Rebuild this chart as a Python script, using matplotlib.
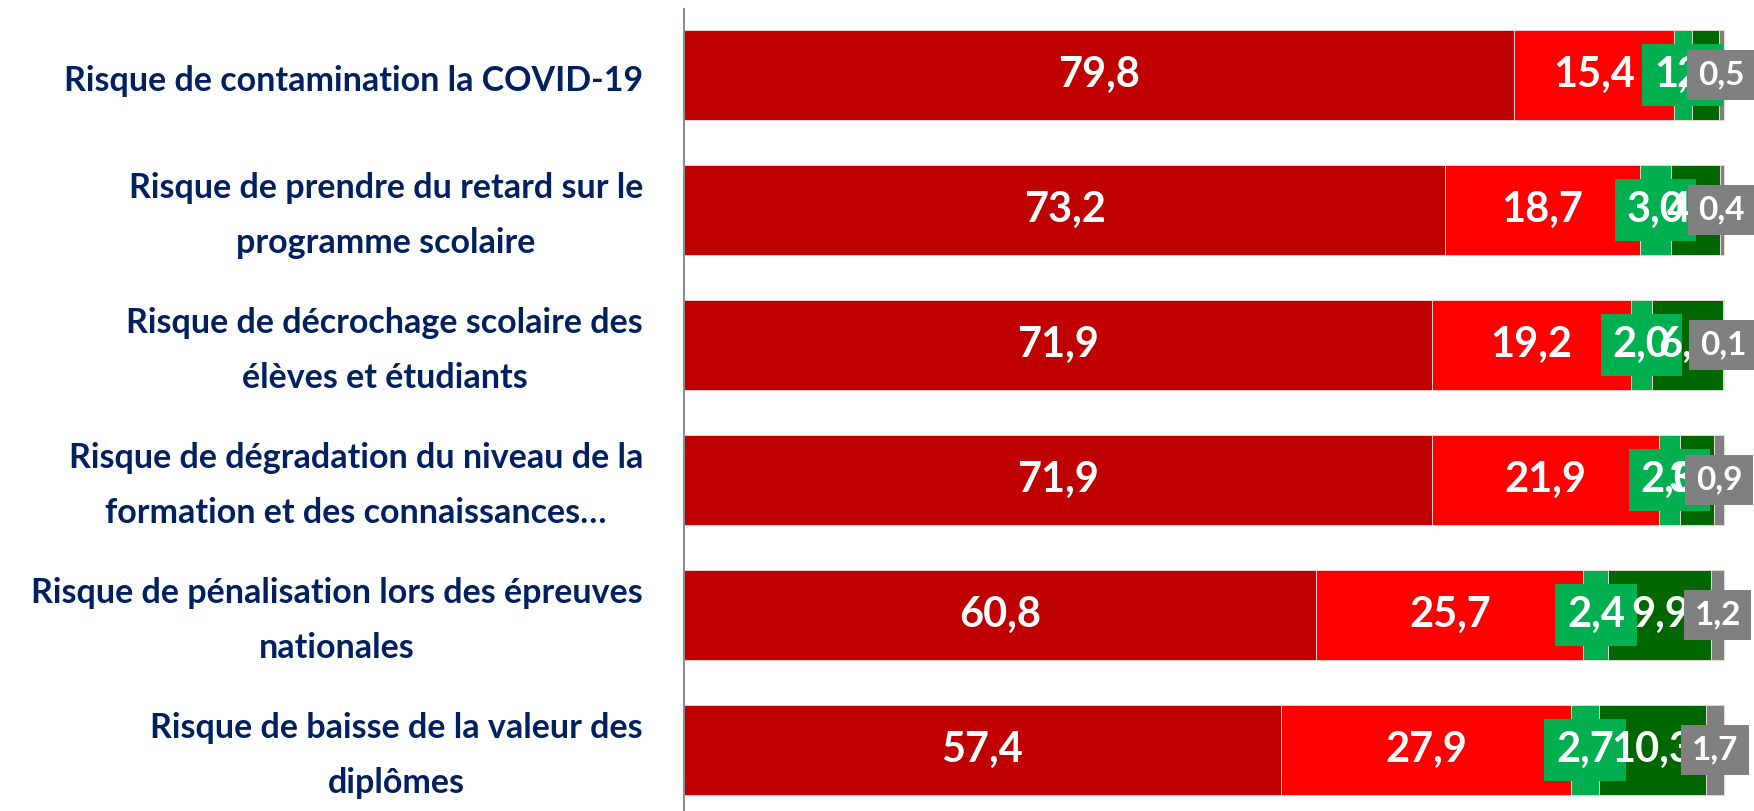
import numpy as np
import matplotlib
matplotlib.use("Agg")
import matplotlib.pyplot as plt
import matplotlib.transforms as mtransforms

plt.rcParams['font.family'] = ['Lato', 'DejaVu Sans']

# categories (top to bottom)
categories = [
    "Risque de contamination la COVID-19",
    "Risque de prendre du retard sur le\nprogramme scolaire",
    "Risque de décrochage scolaire des\nélèves et étudiants",
    "Risque de dégradation du niveau de la\nformation et des connaissances…",
    "Risque de pénalisation lors des épreuves\nnationales",
    "Risque de baisse de la valeur des\ndiplômes",
]

# series values (%)
tres_eleve = [79.8, 73.2, 71.9, 71.9, 60.8, 57.4]
eleve = [15.4, 18.7, 19.2, 21.9, 25.7, 27.9]
faible = [1.7, 3.0, 2.0, 2.0, 2.4, 2.7]
tres_faible = [2.6, 4.7, 6.8, 3.3, 9.9, 10.3]
nsp = [0.5, 0.4, 0.1, 0.9, 1.2, 1.7]

series = [tres_eleve, eleve, faible, tres_faible, nsp]
colors = ["#C00000", "#FF0000", "#00B050", "#006600", "#808080"]

fig = plt.figure(figsize=(17.54, 8.11), dpi=100)
ax = fig.add_axes([684 / 1754, 0, 1070 / 1754, 802 / 811])

y = np.arange(len(categories))
left = np.zeros(len(categories))

for k, (vals, col) in enumerate(zip(series, colors)):
    vals = np.array(vals)
    ax.barh(y, vals, left=left, height=0.667, color=col,
            edgecolor="#f2dcdc", linewidth=0.6, zorder=2)
    for i in range(len(y)):
        xc = left[i] + vals[i] / 2
        txt = f"{vals[i]:.1f}".replace(".", ",")
        if k == 2:
            # small green segment: label sits in a green box
            ax.text(xc, y[i], txt, ha="center", va="center", color="white",
                    fontsize=30, fontweight="bold", zorder=5 + k,
                    bbox=dict(boxstyle="square,pad=0.28", fc=col, ec="none"))
        elif k == 4:
            ax.text(xc, y[i], txt, ha="center", va="center", color="white",
                    fontsize=24, fontweight="bold", zorder=5 + k, clip_on=False,
                    bbox=dict(boxstyle="square,pad=0.32", fc=col, ec="none"))
        else:
            ax.text(xc, y[i], txt, ha="center", va="center", color="white",
                    fontsize=30, fontweight="bold", zorder=5 + k)
    left += vals

ax.set_xlim(0, 102.9)
ax.set_ylim(5.452, -0.489)
ax.set_xticks([])
ax.set_yticks(y)
ax.set_yticklabels([])
ax.tick_params(axis="y", length=0)

# category labels, right-aligned left of the axis
trans = mtransforms.blended_transform_factory(ax.transAxes, ax.transData)
shift = mtransforms.ScaledTranslation(-41 / 100, -4 / 72, fig.dpi_scale_trans)
for yi, lab in zip(y, categories):
    ax.text(0, yi, lab, transform=trans + shift, ha="right", va="center",
            ma="center", linespacing=1.9, fontsize=24.5, fontweight="bold",
            color="#002060", clip_on=False)

for s in ["top", "right", "bottom"]:
    ax.spines[s].set_visible(False)
ax.spines["left"].set_color("#8c8c8c")
ax.spines["left"].set_linewidth(1.5)

fig.savefig("out.png", dpi=100)
